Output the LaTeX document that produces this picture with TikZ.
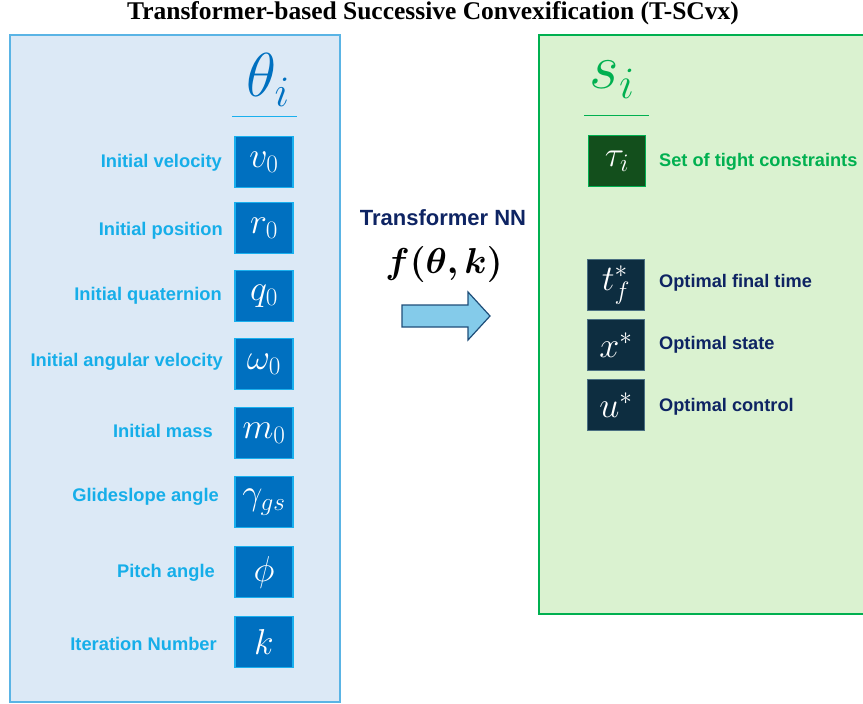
\RequirePackage{fix-cm}
\documentclass[tikz,border=0pt]{standalone}
\usepackage{amsmath}
\usepackage{fontspec}
\setmainfont{Liberation Serif}
\newfontfamily\lblfont{Liberation Sans}
\definecolor{leftFill}{HTML}{DCE9F6}
\definecolor{leftBorder}{HTML}{5AB4E5}
\definecolor{inFill}{HTML}{0070C0}
\definecolor{inBorder}{HTML}{1AB0EE}
\definecolor{cyanLbl}{HTML}{16AEE9}
\definecolor{thetaC}{HTML}{0070C0}
\definecolor{rightFill}{HTML}{DAF2D0}
\definecolor{rightBorder}{HTML}{00B050}
\definecolor{tauFill}{HTML}{134F1C}
\definecolor{outFill}{HTML}{0D2D40}
\definecolor{outBorder}{HTML}{4A6F82}
\definecolor{navyLbl}{HTML}{0E2463}
\definecolor{greenLbl}{HTML}{00B050}
\definecolor{arrowFill}{HTML}{84CBEA}
\definecolor{arrowBorder}{HTML}{1F4E79}
\tikzset{
  inbox/.style={draw=inBorder, fill=inFill, line width=1.5pt, minimum width=58pt, minimum height=51pt, inner sep=0pt, text=white, font=\fontsize{36}{40}\selectfont},
  inlbl/.style={anchor=east, inner sep=0pt, text=cyanLbl, font=\lblfont\bfseries\fontsize{18.3}{21}\selectfont},
  outbox/.style={draw=outBorder, fill=outFill, line width=1.2pt, minimum width=57pt, minimum height=51pt, inner sep=0pt, text=white, font=\fontsize{36}{40}\selectfont},
  outlbl/.style={anchor=west, inner sep=0pt, text=navyLbl, font=\lblfont\bfseries\fontsize{18.2}{21}\selectfont},
}
\begin{document}
\begin{tikzpicture}[x=1pt,y=-1pt]
\useasboundingbox (0,0) rectangle (863,704);
% title
\node (title) at (433,13) {\fontsize{25.5}{28}\selectfont\bfseries Transformer-based Successive Convexification (T-SCvx)};
% left panel
\draw[draw=leftBorder, fill=leftFill, line width=2pt] (10,35) rectangle (340,702);
\node[text=thetaC, font=\fontsize{62}{70}\selectfont] (theta) at (268,80) {$\theta_i$};
\draw[draw=inBorder, line width=1pt] (232,116) -- (297,116);
\node[inbox] (v0) at (264,162) {$v_0$};
\node[inbox] (r0) at (264,228) {$r_0$};
\node[inbox] (q0) at (264,296) {$q_0$};
\node[inbox] (w0) at (264,364) {$\omega_0$};
\node[inbox] (m0) at (264,433) {$m_0$};
\node[inbox] (ggs) at (264,502) {$\gamma_{gs}$};
\node[inbox] (phi) at (264,572) {$\phi$};
\node[inbox] (k) at (264,642) {$k$};
\node[inlbl] (lv0) at (222,163) {Initial velocity};
\node[inlbl] (lr0) at (223,231) {Initial position};
\node[inlbl] (lq0) at (222,296) {Initial quaternion};
\node[inlbl] (lw0) at (223,362) {Initial angular velocity};
\node[inlbl] (lm0) at (213,431) {Initial mass};
\node[inlbl] (lggs) at (219,497) {Glideslope angle};
\node[inlbl] (lphi) at (215,573) {Pitch angle};
\node[inlbl] (lk) at (217,644) {Iteration Number};
% middle
\node[text=navyLbl, font=\lblfont\bfseries\fontsize{22}{25}\selectfont] (tnn) at (443,218) {Transformer NN};
\node[font=\fontsize{36}{40}\selectfont] (fn) at (444,264) {$\boldsymbol{f}\boldsymbol{(}\boldsymbol{\theta}\boldsymbol{,}\,\boldsymbol{k}\boldsymbol{)}$};
\draw[draw=arrowBorder, fill=arrowFill, line width=1.2pt, line join=miter]
  (402,305) -- (468,305) -- (468,292) -- (490,316) -- (468,340) -- (468,327) -- (402,327) -- cycle;
% right panel
\draw[draw=rightBorder, fill=rightFill, line width=2pt] (539,35) rectangle (875,614);
\node[text=greenLbl, font=\fontsize{64}{70}\selectfont] (si) at (612,80) {$s_i$};
\draw[draw=greenLbl, line width=1pt] (584,115) -- (649,115);
\node[outbox, draw=rightBorder, fill=tauFill] (tau) at (617,161) {$\tau_i$};
\node[outlbl, text=greenLbl] (ltau) at (659,162) {Set of tight constraints};
\node[outbox] (tf) at (616,285) {$t_f^*$};
\node[outbox] (xs) at (616,345) {$x^*$};
\node[outbox] (us) at (616,405) {$u^*$};
\node[outlbl] (ltf) at (659,283) {Optimal final time};
\node[outlbl] (lxs) at (659,345) {Optimal state};
\node[outlbl] (lus) at (659,407) {Optimal control};
\end{tikzpicture}
\end{document}
